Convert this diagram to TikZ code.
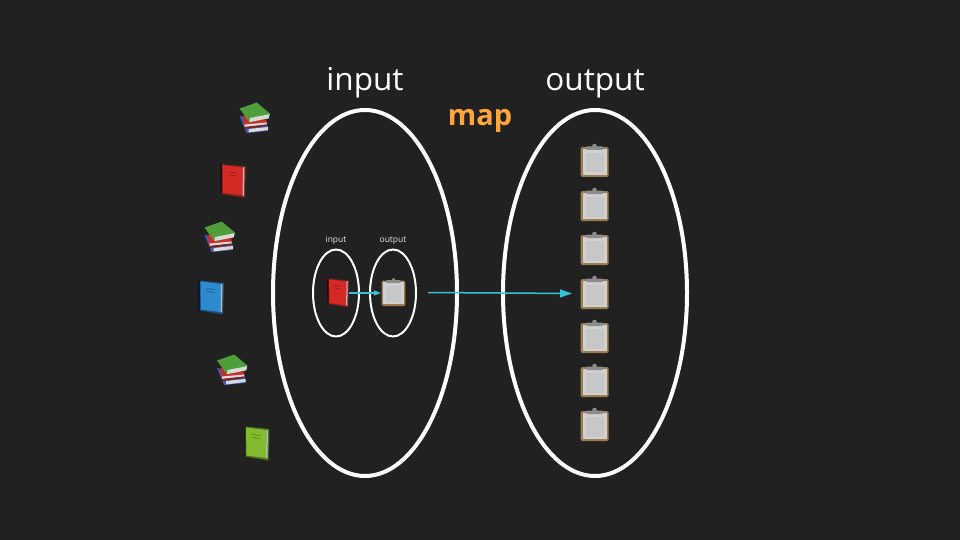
\documentclass[tikz,border=0pt]{standalone}
\usepackage{fontspec}
\setmainfont{Open Sans}
\usepackage{tikz}
\usetikzlibrary{shapes.geometric, arrows.meta, positioning}
\definecolor{bg_dark}{HTML}{212121}
\definecolor{map_orange}{HTML}{FFA53A}
\definecolor{arrow_cyan}{HTML}{37C3D6}
\definecolor{board_brown}{HTML}{A07C4C}
\definecolor{book_red}{HTML}{D42A26}
\definecolor{book_red_dark}{HTML}{7E1F1C}
\definecolor{book_blue}{HTML}{2E8AD0}
\definecolor{book_blue_dark}{HTML}{1E4F80}
\definecolor{book_green}{HTML}{82BA30}
\definecolor{book_green_dark}{HTML}{4D6F22}
\definecolor{stack_green}{HTML}{4F9E3C}
\definecolor{stack_blue}{HTML}{3A5FB0}
\tikzset{
  big_set/.style={ellipse, draw=white, line width=4pt, outer sep=0pt, minimum width=184pt, minimum height=366pt},
  small_set/.style={ellipse, draw=white, line width=2pt, outer sep=0pt, minimum width=46pt, minimum height=87pt},
  big_label/.style={text=white, font=\fontsize{31.5}{31}\selectfont, inner sep=0pt},
  small_label/.style={text=white!90!black, font=\fontsize{8.5}{9}\selectfont, inner sep=0pt},
  map_label/.style={text=map_orange, font=\fontsize{29}{29}\selectfont\bfseries, inner sep=0pt},
  arrow/.style={-{Triangle[length=12pt, width=8pt]}, arrow_cyan, line width=1.5pt},
  small_arrow/.style={-{Triangle[length=7pt, width=5pt]}, arrow_cyan, line width=1.1pt},
  pics/book/.style 2 args={code={
    \fill[black!70!#2] (-13,-16.5) -- (-9,-16.5) -- (-9,12.5) -- (-12.5,12.5) -- cycle;
    \fill[#2] (-11,-17) -- (13,-14.5) -- (12,17) -- (-11,13) -- cycle;
    \fill[#1] (-10.5,-16) -- (10,-13.5) -- (9.5,14.5) -- (-10,12) -- cycle;
    \fill[white!72!black] (10,-13.5) -- (11.5,-14) -- (11,15) -- (9.5,14.5) -- cycle;
    \draw[#2, line width=.5pt] (-5,-9) -- (4,-8) (-4,-6) -- (3,-5);
  }},
  pics/book_stack/.style={code={
    % bottom book
    \fill[stack_blue] (-15,-3) -- (-8,14) -- (13.5,12) -- (12.5,3) -- cycle;
    \fill[white!85!black] (-6,10) -- (13.5,8) -- (13.5,11) -- (-6,13.5) -- cycle;
    % middle book
    \fill[book_red] (-11.5,-3.3) -- (12,.7) -- (12,5) -- (-9.8,9.5) -- cycle;
    \fill[white!85!black] (-9.8,5.5) -- (12,3.5) -- (12,5.5) -- (-9.8,8) -- cycle;
    \fill[book_red_dark] (-9.8,8) -- (12,5.5) -- (12,7) -- (-9.8,10) -- cycle;
    % top book
    \fill[stack_green] (-15,-10.5) -- (2.3,-16.5) -- (15.5,-5.3) -- (14.2,-.7) -- (-5,3.5) -- cycle;
    \fill[white!85!black] (-4.5,-1) -- (15,-4.8) -- (14.2,-.7) -- (-5,3) -- cycle;
  }},
  pics/clipboard/.style={code={
    \fill[board_brown, rounded corners=1.5pt] (-14,-14) rectangle (14,16);
    \fill[white!82!black] (-12,-12) rectangle (12,14);
    \fill[white!78!black] (-9,-8) rectangle (9,11.5);
    \fill[white!55!black, rounded corners=1pt] (-8.5,-14.5) rectangle (8.5,-11);
    \fill[white!55!black] (0,-15) circle (2.3pt);
  }}
}

\begin{document}
\begin{tikzpicture}[x=1pt, y=-1pt]
  \fill[bg_dark] (0,0) rectangle (960,540);
  \useasboundingbox (0,0) rectangle (960,540);

  % Sets
  \node (input_set) [big_set] at (365,293) {};
  \node (output_set) [big_set, right=46pt of input_set] {};
  \node (small_input) [small_set] at (336,293) {};
  \node (small_output) [small_set, right=11pt of small_input] {};

  % Labels
  \node (input_label) [big_label, above=12pt of input_set] {input};
  \node (output_label) [big_label, above=12pt of output_set] {output};
  \node (map_label) [map_label] at (480,120.5) {map};
  \node (small_input_label) [small_label, above=5pt of small_input] {input};
  \node (small_output_label) [small_label, above=5pt of small_output] {output};

  % Books
  \path (254.5,119) pic {book_stack};
  \path (233,181) pic {book={book_red}{book_red_dark}};
  \path (219.5,238) pic {book_stack};
  \path (211,297.5) pic {book={book_blue}{book_blue_dark}};
  \path (232,371) pic {book_stack};
  \path (256.5,443.5) pic {book={book_green}{book_green_dark}};
  \path (338,293) pic[scale=.85] {book={book_red}{book_red_dark}};

  % Clipboards
  \foreach \y in {161,205,249,293,337,381,425} {
    \path (594.5,\y) pic {clipboard};
  }
  \path (393.5,292.5) pic[scale=.85] {clipboard};

  % Connections
  \coordinate (map_start) at (428,292.5);
  \coordinate (map_end) at (572,293.5);
  \coordinate (small_start) at (349,293);
  \coordinate (small_end) at (381,293);
  \draw [arrow] (map_start) -- (map_end);
  \draw [small_arrow] (small_start) -- (small_end);
\end{tikzpicture}
\end{document}
